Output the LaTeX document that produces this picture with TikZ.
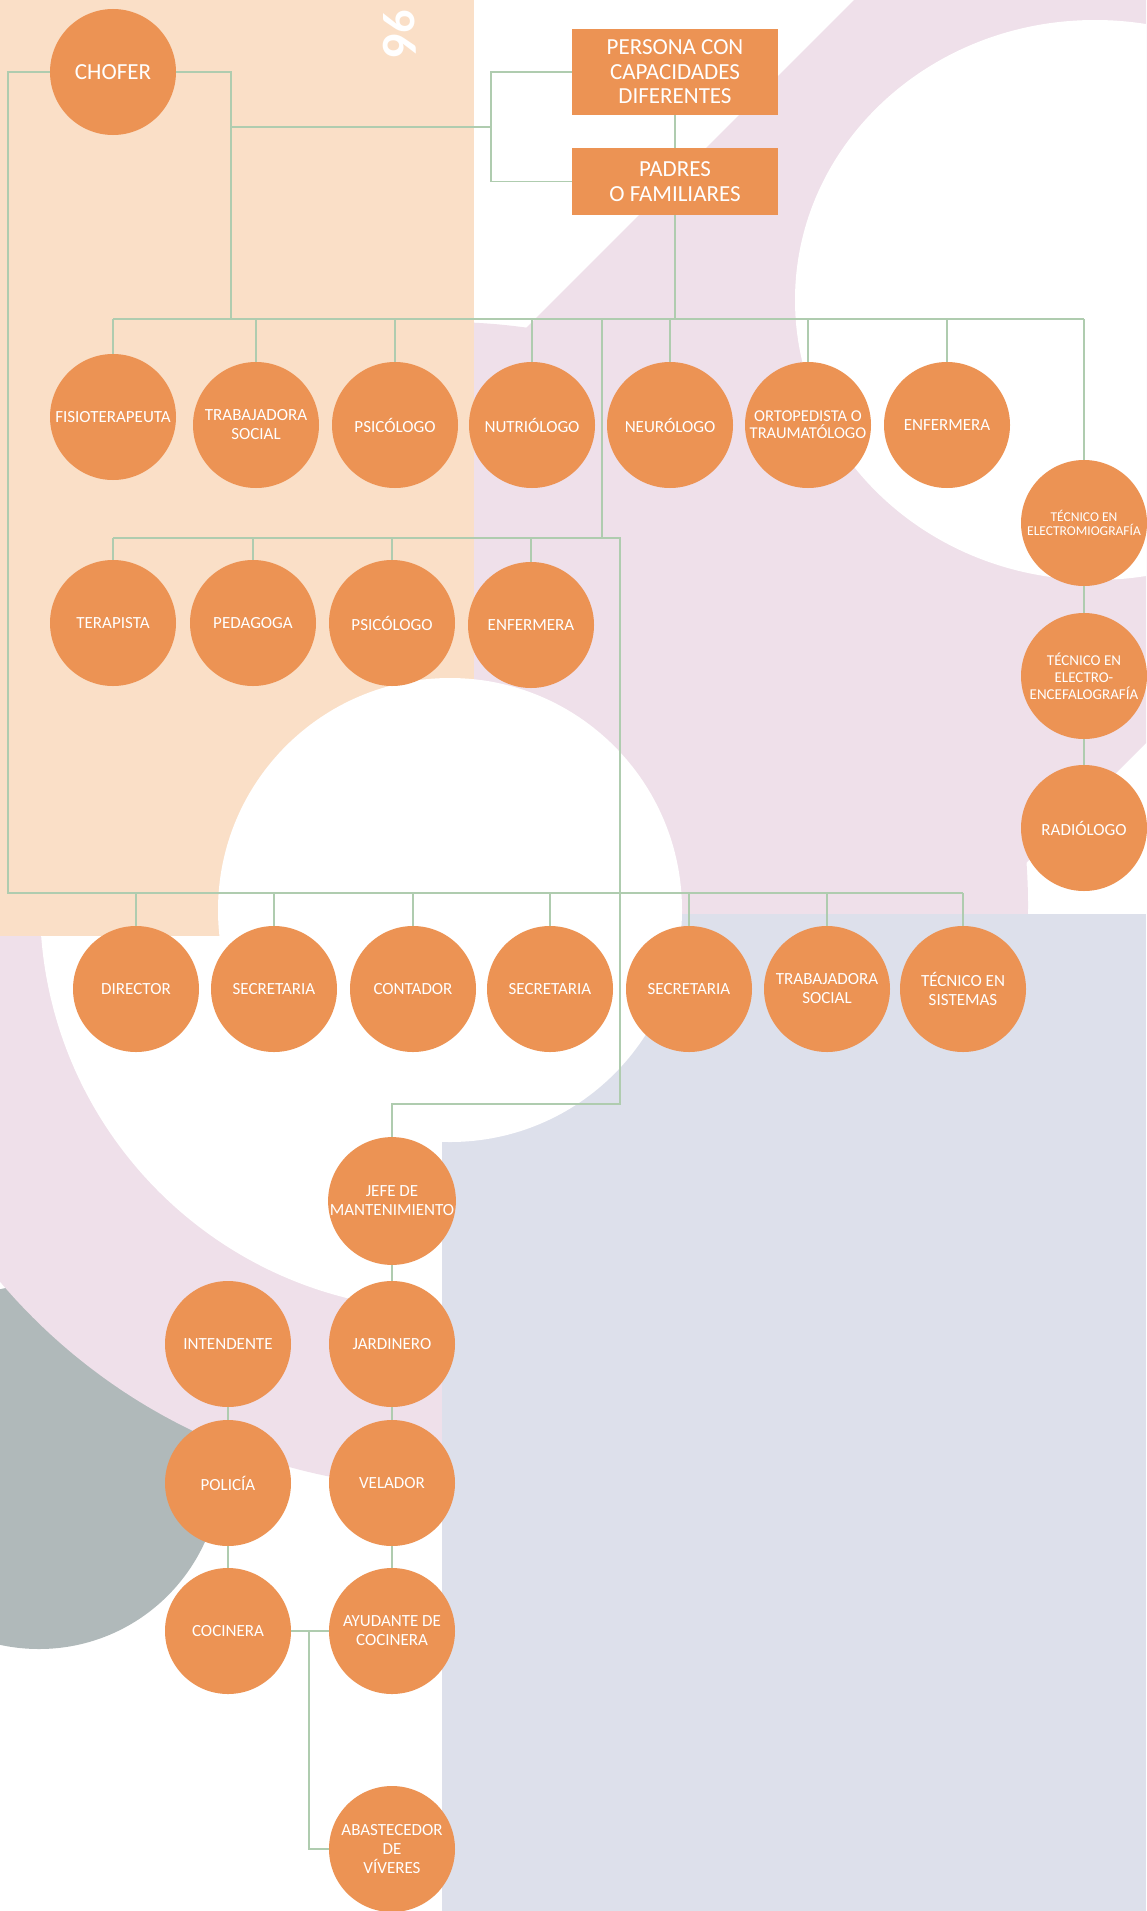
\documentclass[tikz,border=0pt]{standalone}
\usepackage{fontspec}
\setmainfont{Carlito}
\definecolor{peach}{HTML}{FADFC7}
\definecolor{pinkbg}{HTML}{EFE0EA}
\definecolor{lavbg}{HTML}{DDE0EB}
\definecolor{graybg}{HTML}{B0B9BA}
\definecolor{orgfill}{HTML}{EC9354}
\definecolor{linecol}{HTML}{AFCCAF}
\begin{document}
\begin{tikzpicture}[x=1pt,y=-1pt,
  orgcirc/.style={circle, fill=orgfill, minimum size=126pt, inner sep=0pt, text=white, align=center,
    font=\fontsize{17}{19}\selectfont},
  orgbox/.style={rectangle, fill=orgfill, minimum width=206pt, inner sep=0pt, text=white, align=center,
    font=\fontsize{23}{24.5}\selectfont},
  conn/.style={draw=linecol, line width=1.5pt}]
\useasboundingbox (0,0) rectangle (1146,1911);
% ---------- background ----------
\begin{scope}
\clip (0,0) rectangle (1146,1911);
\fill[white] (0,0) rectangle (1146,1911);
\fill[graybg] (39,1467) circle[radius=182pt];
\fill[pinkbg] (445,905) circle[radius=583pt];
\fill[white] (445,905) circle[radius=405pt];
\fill[pinkbg] (854,0) -- (1146,0) -- (1146,743) -- (975,914) -- (0,914) -- (0,854) -- cycle;
\fill[peach] (0,0) rectangle (474,936);
\fill[lavbg] (442,914) rectangle (1146,1911);
\fill[white] (450,910) circle[radius=232pt];
\fill[white] (1095,300) ellipse[x radius=300pt, y radius=280pt];
\end{scope}
\node[rotate=-90, text=white, inner sep=0pt, font=\bfseries\fontsize{48}{48}\selectfont] (pagenum) at (400,33) {96};
% ---------- nodes ----------
\node[orgcirc, font=\fontsize{23}{24}\selectfont] (chofer) at (113,72) {CHOFER};
\node[orgbox, minimum height=86pt] (persona) at (675,72) {PERSONA CON\\CAPACIDADES\\DIFERENTES};
\node[orgbox, minimum height=67pt] (padres) at (675,181.5) {PADRES\\O FAMILIARES};
% row 1
\node[orgcirc] (fisio) at (113,417) {FISIOTERAPEUTA};
\node[orgcirc] (trabA) at (256,425) {TRABAJADORA\\SOCIAL};
\node[orgcirc] (psicA) at (395,425) {PSICÓLOGO};
\node[orgcirc] (nutri) at (532,425) {NUTRIÓLOGO};
\node[orgcirc] (neuro) at (670,425) {NEURÓLOGO};
\node[orgcirc, font=\fontsize{16.5}{17}\selectfont] (orto) at (808,425) {ORTOPEDISTA O\\TRAUMATÓLOGO};
\node[orgcirc] (enfA) at (947,425) {ENFERMERA};
\node[orgcirc, font=\fontsize{13.5}{14}\selectfont] (temg) at (1084,523) {TÉCNICO EN\\ELECTROMIOGRAFÍA};
\node[orgcirc, font=\fontsize{15}{17}\selectfont] (teeg) at (1084,676) {TÉCNICO EN\\ELECTRO-\\ENCEFALOGRAFÍA};
\node[orgcirc] (radio) at (1084,828) {RADIÓLOGO};
% row 2
\node[orgcirc] (terap) at (113,623) {TERAPISTA};
\node[orgcirc] (pedag) at (253,623) {PEDAGOGA};
\node[orgcirc] (psicB) at (392,623) {PSICÓLOGO};
\node[orgcirc] (enfB) at (531,625) {\raisebox{-6pt}{ENFERMERA}};
% bottom row
\node[orgcirc] (dir) at (136,989) {DIRECTOR};
\node[orgcirc] (secA) at (274,989) {SECRETARIA};
\node[orgcirc] (cont) at (413,989) {CONTADOR};
\node[orgcirc] (secB) at (550,989) {SECRETARIA};
\node[orgcirc] (secC) at (689,989) {SECRETARIA};
\node[orgcirc] (trabB) at (827,989) {TRABAJADORA\\SOCIAL};
\node[orgcirc] (tecsis) at (963,989) {TÉCNICO EN\\SISTEMAS};
% lower group
\node[orgcirc] (jefe) at (392,1201) {JEFE DE\\MANTENIMIENTO};
\node[orgcirc] (jard) at (392,1344) {JARDINERO};
\node[orgcirc] (intend) at (228,1344) {INTENDENTE};
\node[orgcirc] (polic) at (228,1483) {POLICÍA};
\node[orgcirc] (velad) at (392,1483) {VELADOR};
\node[orgcirc] (cocin) at (228,1631) {COCINERA};
\node[orgcirc] (ayud) at (392,1631) {AYUDANTE DE\\COCINERA};
\node[orgcirc] (abast) at (392,1849) {ABASTECEDOR\\DE\\VÍVERES};
% ---------- connectors ----------
\coordinate (lft) at (8,893);
\coordinate (bA) at (0,319);
\coordinate (bB) at (0,538);
\coordinate (cj) at (231,319);
\coordinate (brk) at (491,127);
\coordinate (tB) at (602,319);
\coordinate (rB) at (620,538);
\coordinate (mt) at (620,1104);
\coordinate (kv) at (309,1631);
\draw[conn] (chofer.west) -| (lft) -- (tecsis |- lft);
\foreach \n in {dir,secA,cont,secB,secC,trabB,tecsis}
  \draw[conn] (\n.north) -- (\n |- lft);
\draw[conn] (chofer.east) -| (cj);
\draw[conn] (persona.west) -| (brk) |- (padres.west);
\draw[conn] (brk) -- (brk -| cj);
\draw[conn] (persona) -- (padres);
\draw[conn] (padres.south) -- (padres |- bA);
\draw[conn] (fisio |- bA) -- (temg |- bA);
\foreach \n in {fisio,trabA,psicA,nutri,neuro,orto,enfA,temg}
  \draw[conn] (\n.north) -- (\n |- bA);
\draw[conn] (temg) -- (teeg);
\draw[conn] (teeg) -- (radio);
\draw[conn] (tB) -- (tB |- bB);
\draw[conn] (terap |- bB) -- (rB) -- (mt) -| (jefe.north);
\foreach \n in {terap,pedag,psicB,enfB}
  \draw[conn] (\n.north) -- (\n |- bB);
\draw[conn] (jefe) -- (jard);
\draw[conn] (jard) -- (velad);
\draw[conn] (velad) -- (ayud);
\draw[conn] (intend) -- (polic);
\draw[conn] (polic) -- (cocin);
\draw[conn] (cocin) -- (ayud);
\draw[conn] (kv) |- (abast.west);
\end{tikzpicture}
\end{document}
